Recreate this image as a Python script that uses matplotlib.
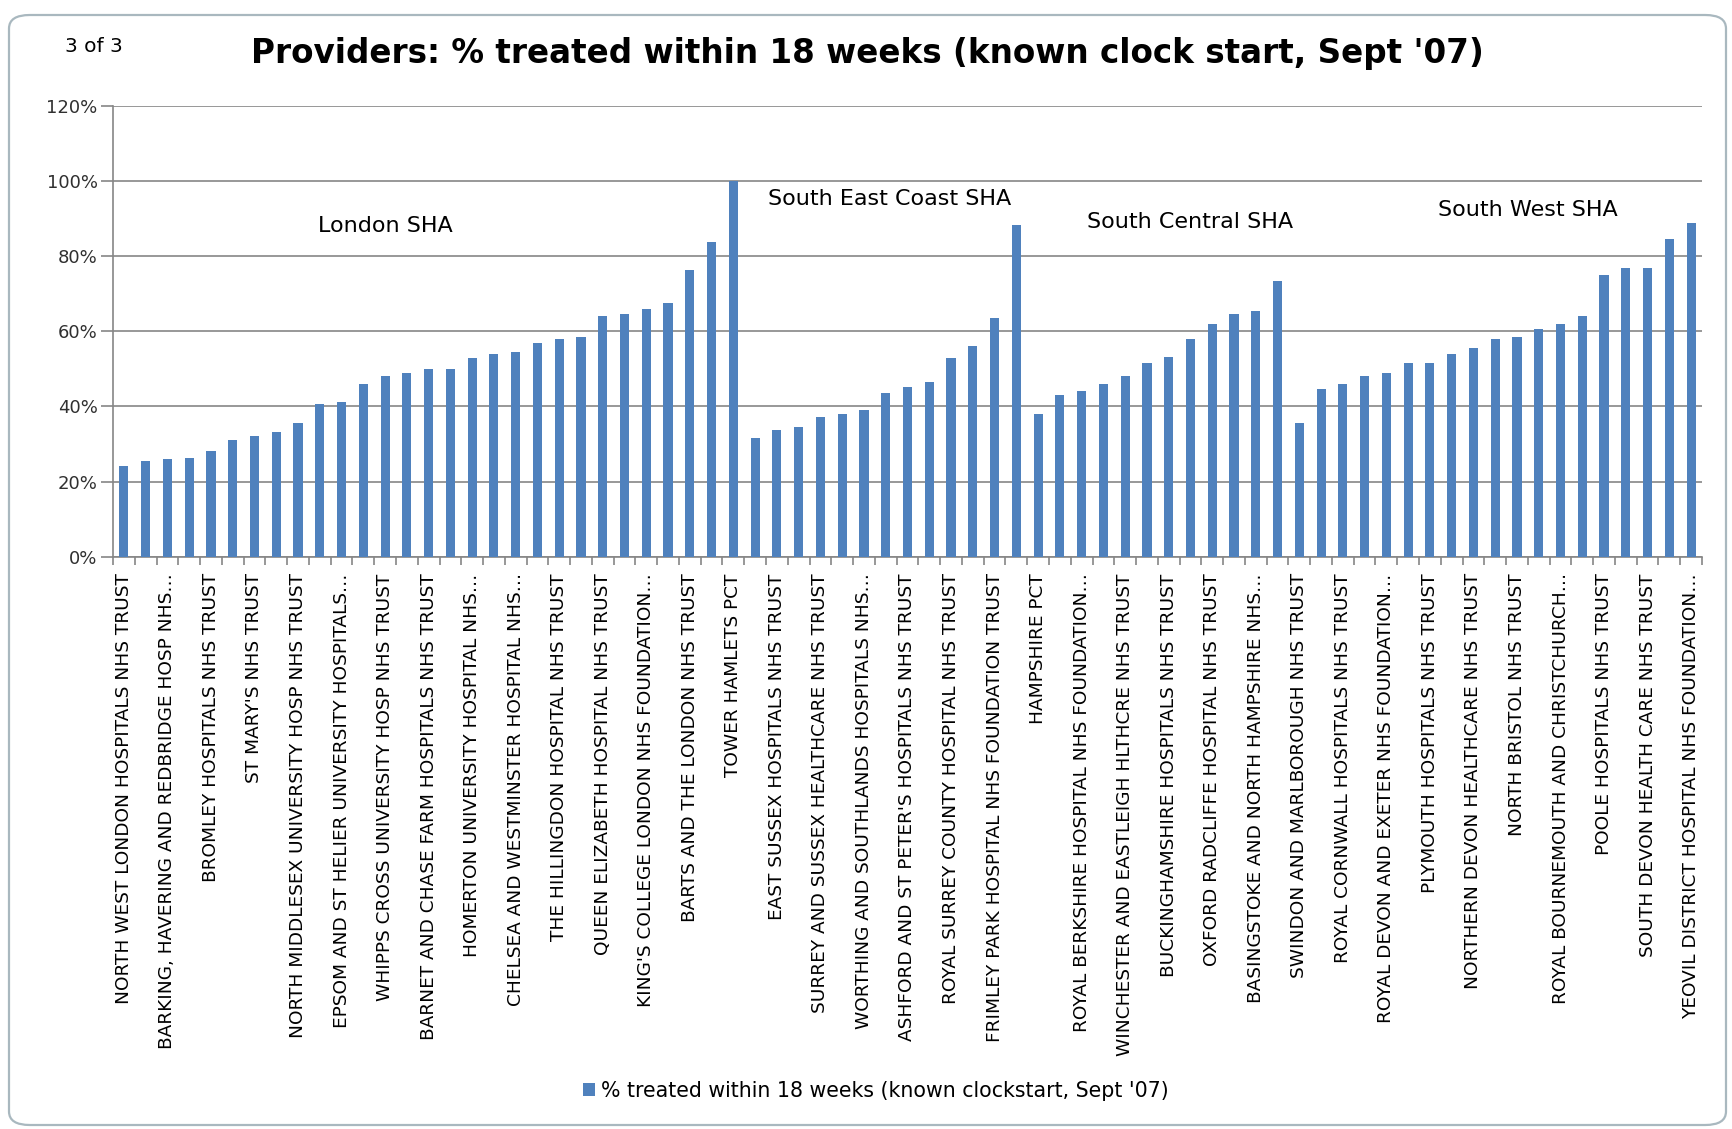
import numpy as np
import matplotlib
matplotlib.use("Agg")
import matplotlib.pyplot as plt
from matplotlib.patches import FancyBboxPatch
from matplotlib.ticker import FixedLocator, FuncFormatter

# % treated within 18 weeks, one value per provider, in chart order
london = [24.1, 25.4, 25.9, 26.4, 28.1, 31.0, 32.1, 33.3, 35.6, 40.7,
          41.3, 45.9, 48.2, 48.8, 49.9, 49.9, 52.8, 53.9, 54.5, 56.8,
          57.9, 58.5, 64.2, 64.7, 65.9, 67.6, 76.3, 83.7, 100.0]
south_east_coast = [31.6, 33.8, 34.5, 37.3, 37.9, 39.0, 43.6, 45.3, 46.4,
                    52.8, 56.2, 63.6, 88.2]
south_central = [37.9, 43.0, 44.1, 45.9, 48.1, 51.6, 53.3, 57.9, 61.9,
                 64.7, 65.3, 73.4]
south_west = [35.6, 44.7, 45.9, 48.1, 48.8, 51.6, 51.6, 53.9, 55.6, 57.9,
              58.5, 60.7, 61.9, 64.2, 75.0, 76.8, 76.8, 84.7, 88.8]

# only every second category label is shown on the axis
shown_labels = [
    "NORTH WEST LONDON HOSPITALS NHS TRUST",
    "BARKING, HAVERING AND REDBRIDGE HOSP NHS…",
    "BROMLEY HOSPITALS NHS TRUST",
    "ST MARY'S NHS TRUST",
    "NORTH MIDDLESEX UNIVERSITY HOSP NHS TRUST",
    "EPSOM AND ST HELIER UNIVERSITY HOSPITALS…",
    "WHIPPS CROSS UNIVERSITY HOSP NHS TRUST",
    "BARNET AND CHASE FARM HOSPITALS NHS TRUST",
    "HOMERTON UNIVERSITY HOSPITAL NHS…",
    "CHELSEA AND WESTMINSTER HOSPITAL NHS…",
    "THE HILLINGDON HOSPITAL NHS TRUST",
    "QUEEN ELIZABETH HOSPITAL NHS TRUST",
    "KING'S COLLEGE LONDON NHS FOUNDATION…",
    "BARTS AND THE LONDON NHS TRUST",
    "TOWER HAMLETS PCT",
    "EAST SUSSEX HOSPITALS NHS TRUST",
    "SURREY AND SUSSEX HEALTHCARE NHS TRUST",
    "WORTHING AND SOUTHLANDS HOSPITALS NHS…",
    "ASHFORD AND ST PETER'S HOSPITALS NHS TRUST",
    "ROYAL SURREY COUNTY HOSPITAL NHS TRUST",
    "FRIMLEY PARK HOSPITAL NHS FOUNDATION TRUST",
    "HAMPSHIRE PCT",
    "ROYAL BERKSHIRE HOSPITAL NHS FOUNDATION…",
    "WINCHESTER AND EASTLEIGH HLTHCRE NHS TRUST",
    "BUCKINGHAMSHIRE HOSPITALS NHS TRUST",
    "OXFORD RADCLIFFE HOSPITAL NHS TRUST",
    "BASINGSTOKE AND NORTH HAMPSHIRE NHS…",
    "SWINDON AND MARLBOROUGH NHS TRUST",
    "ROYAL CORNWALL HOSPITALS NHS TRUST",
    "ROYAL DEVON AND EXETER NHS FOUNDATION…",
    "PLYMOUTH HOSPITALS NHS TRUST",
    "NORTHERN DEVON HEALTHCARE NHS TRUST",
    "NORTH BRISTOL NHS TRUST",
    "ROYAL BOURNEMOUTH AND CHRISTCHURCH…",
    "POOLE HOSPITALS NHS TRUST",
    "SOUTH DEVON HEALTH CARE NHS TRUST",
    "YEOVIL DISTRICT HOSPITAL NHS FOUNDATION…",
]

regions = ["London SHA", "South East Coast SHA", "South Central SHA", "South West SHA"]
region_label_pos = [(12, 88), (35.2, 95.3), (49, 89), (64.5, 92.3)]

series_name = "% treated within 18 weeks (known clockstart, Sept '07)"
title = "Providers: % treated within 18 weeks (known clock start, Sept '07)"

values = london + south_east_coast + south_central + south_west
n = len(values)
x = np.arange(n)

plt.rcParams['font.family'] = ['DejaVu Sans']

W, H = 1732, 1129
fig = plt.figure(figsize=(W / 100, H / 100), dpi=100)

# chart-area frame
frame = FancyBboxPatch((9 / W, 4 / H), 1717 / W, 1110 / H,
                       boxstyle="round,pad=0,rounding_size=0.012",
                       transform=fig.transFigure, facecolor="none",
                       edgecolor="#a9b8bf", linewidth=1.6, zorder=-1)
fig.patches.append(frame)

left, right = 113 / W, 1702 / W
bottom, top = 1 - 556.7 / H, 1 - 106 / H
ax = fig.add_axes([left, bottom, right - left, top - bottom])
ax.set_facecolor("none")

bars = ax.bar(x, values, width=0.42, color="#4f81bd", label=series_name, zorder=3)

ax.set_xlim(-0.5, n - 0.5)
ax.set_ylim(0, 120)
ax.yaxis.set_major_locator(FixedLocator(np.arange(0, 121, 20)))
ax.yaxis.set_major_formatter(FuncFormatter(lambda v, p: "%d%%" % v))
ax.grid(axis="y", color="#868686", linewidth=1.2, zorder=1)

for s in ["top", "right"]:
    ax.spines[s].set_visible(False)
for s in ["left", "bottom"]:
    ax.spines[s].set_color("#868686")
    ax.spines[s].set_linewidth(1.2)

ax.set_xticks(x[::2])
ax.set_xticklabels(shown_labels, rotation=90, va="top", ha="center",
                   fontsize=13.3, color="black")
ax.set_xticks(np.arange(-0.5, n, 1), minor=True)
ax.tick_params(axis="x", which="major", length=0, pad=12)
ax.tick_params(axis="x", which="minor", length=6, color="#868686", width=1.2)
ax.tick_params(axis="y", length=9, color="#868686", width=1.2, labelsize=13,
               pad=2, labelcolor="#303030")

for name, (px, py) in zip(regions, region_label_pos):
    ax.text(px, py, name, ha="center", va="center", fontsize=16, color="black")

fig.text(867 / W, 1 - 54 / H, title, ha="center", va="center",
         fontsize=23.5, fontweight="bold")
fig.text(94 / W, 1 - 46 / H, "3 of 3", ha="center", va="center", fontsize=14.5)

fig.legend(handles=[bars], labels=[series_name], loc="center",
           bbox_to_anchor=(876 / W, 1 - 1091 / H), frameon=False,
           fontsize=14.8, handlelength=0.6, handleheight=0.6, handletextpad=0.3)

fig.savefig("out.png", dpi=100)
